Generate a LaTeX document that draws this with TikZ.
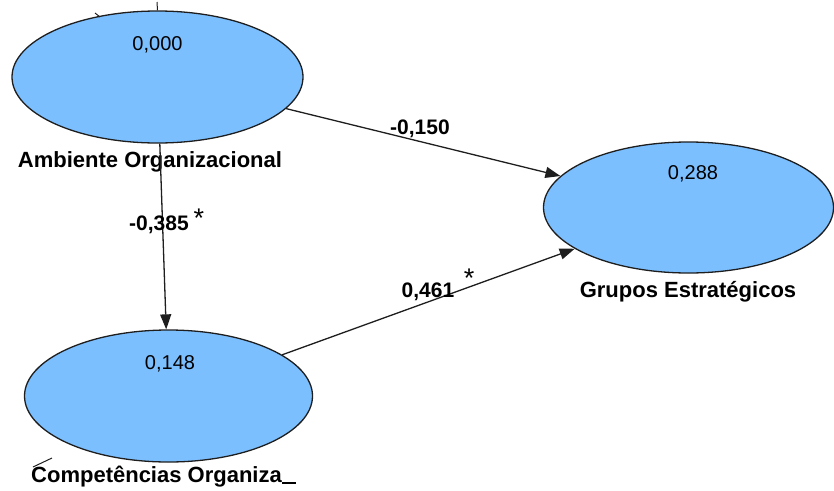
\documentclass[tikz,border=0pt]{standalone}
\usepackage{fontspec}
\setmainfont{Liberation Sans}
\usetikzlibrary{shapes.geometric,arrows.meta}
\definecolor{lvblue}{RGB}{124,191,255}
\definecolor{edgecol}{RGB}{30,30,30}
\tikzset{
  lvnode/.style={ellipse,draw=edgecol,line width=1.3pt,fill=lvblue,inner sep=0pt},
  valtext/.style={font=\fontsize{20}{24}\selectfont,inner sep=0pt},
  lvlabel/.style={font=\fontsize{22}{26}\selectfont\bfseries,inner sep=0pt},
  coeftext/.style={font=\fontsize{21}{25}\selectfont\bfseries,inner sep=0pt},
  starmark/.style={font=\fontsize{27}{30}\selectfont,inner sep=0pt},
  pathline/.style={draw=edgecol,line width=1.3pt,-{Triangle[length=15pt,width=11pt]}},
  stubline/.style={draw=edgecol,line width=1pt}
}
\begin{document}
\begin{tikzpicture}[x=1pt,y=-1pt]
\useasboundingbox (0,0) rectangle (834,490);
% latent variables
\node[lvnode,minimum width=291pt,minimum height=132pt] (A) at (157.5,77) {};
\node[lvnode,minimum width=288pt,minimum height=132pt] (C) at (168.5,396) {};
\node[lvnode,minimum width=290pt,minimum height=131pt] (G) at (688.5,207.5) {};
% values
\node[valtext] (vA) at (157.5,45) {0,000};
\node[valtext] (vC) at (170,364) {0,148};
\node[valtext] (vG) at (693,174) {0,288};
% names
\node[lvlabel] (nA) at (150,162) {Ambiente Organizacional};
\node[lvlabel,anchor=west] (nC) at (31,477) {Competências Organiza\rule[-1pt]{14pt}{2pt}};
\node[lvlabel] (nG) at (688,292) {Grupos Estratégicos};
% paths
\draw[pathline] (A) -- (C);
\draw[pathline] (A) -- (G);
\draw[pathline] (C) -- (G);
% coefficients
\node[coeftext] (cAG) at (420,129) {-0,150};
\node[coeftext] (cAC) at (159,225) {-0,385};
\node[starmark] (sAC) at (199,218) {*};
\node[coeftext] (cCG) at (428,292) {0,461};
\node[starmark] (sCG) at (469,278) {*};
% leftover stubs
\coordinate (t1) at (157,2);
\draw[stubline] (A.north) -- (t1);
\coordinate (t2a) at (95,13);
\coordinate (t2b) at (100,17);
\draw[stubline] (t2a) -- (t2b);
\coordinate (t3a) at (33,467);
\coordinate (t3b) at (52,458);
\draw[stubline] (t3a) -- (t3b);
\end{tikzpicture}
\end{document}
